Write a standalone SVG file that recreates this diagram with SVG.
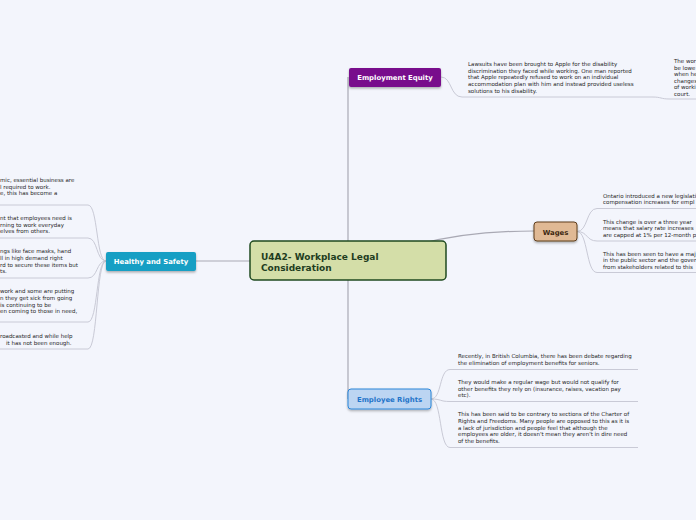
<svg xmlns="http://www.w3.org/2000/svg" width="696" height="520" viewBox="0 0 696 520">
<defs>
<filter id="sh" x="-20%" y="-30%" width="140%" height="170%">
<feDropShadow dx="0" dy="1.5" stdDeviation="1" flood-color="#000" flood-opacity="0.3"/>
</filter>
<style>
.bg{fill:#f3f5fc}
.trunk{fill:none;stroke:#a9a9b4;stroke-width:1.2}
.link{fill:none;stroke:#c9cad6;stroke-width:1}
.t{font-family:"DejaVu Sans",Verdana,sans-serif;font-size:5.5px;fill:#262626}
.nt{font-family:"DejaVu Sans",Verdana,sans-serif;font-size:6.9px;font-weight:bold;text-anchor:middle}
.ct{font-family:"DejaVu Sans",Verdana,sans-serif;font-size:9px;font-weight:bold;fill:#1f3d1f}
</style>
</defs>
<rect class="bg" x="0" y="0" width="696" height="520"/>

<g id="connectors">
<path class="trunk" d="M348 77 L348 399"/>
<path class="trunk" d="M196 261 L250 261"/>
<path class="trunk" d="M420 244 C450 236 490 231 534 231"/>
<path class="link" d="M441 77 C452 77 450 97 462 97 L652 97 C662 97 660 99 670 99 L696 99"/>
<path class="link" d="M577 231.5 C588 231.5 586 208.5 597 208.5 L696 208.5"/>
<path class="link" d="M577 231.5 C588 231.5 586 241 597 241 L696 241"/>
<path class="link" d="M577 231.5 C588 231.5 586 272.5 597 272.5 L696 272.5"/>
<path class="link" d="M431 399 C442 399 439 369.5 450 369.5 L638 369.5"/>
<path class="link" d="M431 399 C442 399 439 401.5 450 401.5 L638 401.5"/>
<path class="link" d="M431 399 C442 399 439 447.5 450 447.5 L638 447.5"/>
<path class="link" d="M106 261 C96 261 98 205 88 205 L0 205"/>
<path class="link" d="M106 261 C96 261 98 238 88 238 L0 238"/>
<path class="link" d="M106 261 C96 261 98 278 88 278 L0 278"/>
<path class="link" d="M106 261 C96 261 98 322 88 322 L0 322"/>
<path class="link" d="M106 261 C96 261 98 349 88 349 L0 349"/>
</g>

<g id="central">
<rect x="250" y="241" width="196" height="39" rx="4" fill="#d4dea8" stroke="#1f4a1f" stroke-width="1.5"/>
<text class="ct" x="261" y="260">U4A2- Workplace Legal</text>
<text class="ct" x="261" y="271">Consideration</text>
</g>

<g id="employment-equity">
<rect x="349" y="68" width="92" height="19" rx="2" fill="#780a8c" filter="url(#sh)"/>
<text class="nt" x="395" y="80" fill="#ffffff">Employment Equity</text>
</g>
<g id="ee-1">
<text class="t" x="468" y="66.2">Lawsuits have been brought to Apple for the disability</text>
<text class="t" x="468" y="72.8">discrimination they faced while working. One man reported</text>
<text class="t" x="468" y="79.4">that Apple repeatedly refused to work on an individual</text>
<text class="t" x="468" y="86">accommodation plan with him and instead provided useless</text>
<text class="t" x="468" y="92.6">solutions to his disability.</text>
</g>
<g id="ee-2">
<text class="t" x="674" y="63">The wor</text>
<text class="t" x="674" y="69.6">be lowe</text>
<text class="t" x="674" y="76.2">when he</text>
<text class="t" x="674" y="82.8">changes</text>
<text class="t" x="674" y="89.4">of worki</text>
<text class="t" x="674" y="96">court.</text>
</g>

<g id="wages">
<rect x="534" y="222" width="43" height="19" rx="3" fill="#e0b994" stroke="#5e3d1d" stroke-width="1" filter="url(#sh)"/>
<text class="nt" x="555.5" y="234.5" fill="#3d2810">Wages</text>
</g>
<g id="w-1">
<text class="t" x="603" y="197.6">Ontario introduced a new legislati</text>
<text class="t" x="603" y="204.2">compensation increases for empl</text>
</g>
<g id="w-2">
<text class="t" x="603" y="223.8">This change is over a three year</text>
<text class="t" x="603" y="230.4">means that salary rate increases</text>
<text class="t" x="603" y="237">are capped at 1% per 12-month p</text>
</g>
<g id="w-3">
<text class="t" x="603" y="255.5">This has been seen to have a maj</text>
<text class="t" x="603" y="262.1">in the public sector and the gover</text>
<text class="t" x="603" y="268.7">from stakeholders related to this</text>
</g>

<g id="employee-rights">
<rect x="348" y="389" width="83" height="20" rx="3" fill="#bcd5f2" stroke="#2b86d9" stroke-width="1" filter="url(#sh)"/>
<text class="nt" x="389.5" y="401.5" fill="#1f74c9">Employee Rights</text>
</g>
<g id="er-1">
<text class="t" x="458" y="358.4">Recently, in British Columbia, there has been debate regarding</text>
<text class="t" x="458" y="365">the elimination of employment benefits for seniors.</text>
</g>
<g id="er-2">
<text class="t" x="458" y="384">They would make a regular wage but would not qualify for</text>
<text class="t" x="458" y="390.6">other benefits they rely on (insurance, raises, vacation pay</text>
<text class="t" x="458" y="397.2">etc).</text>
</g>
<g id="er-3">
<text class="t" x="458" y="416.4">This has been said to be contrary to sections of the Charter of</text>
<text class="t" x="458" y="423">Rights and Freedoms. Many people are opposed to this as it is</text>
<text class="t" x="458" y="429.6">a lack of jurisdiction and people feel that although the</text>
<text class="t" x="458" y="436.2">employees are older, it doesn't mean they aren't in dire need</text>
<text class="t" x="458" y="442.8">of the benefits.</text>
</g>

<g id="healthy-safety">
<rect x="106" y="252" width="90" height="19" rx="2" fill="#189fc4" filter="url(#sh)"/>
<text class="nt" x="151" y="264" fill="#ffffff">Healthy and Safety</text>
</g>
<g id="hs-1">
<text class="t" x="0" y="182">mic, essential business are</text>
<text class="t" x="0" y="188.6">l required to work.</text>
<text class="t" x="0" y="195.2">e, this has become a</text>
</g>
<g id="hs-2">
<text class="t" x="0" y="220.2">nt that employees need is</text>
<text class="t" x="0" y="226.8">rning to work everyday</text>
<text class="t" x="0" y="233.4">elves from others.</text>
</g>
<g id="hs-3">
<text class="t" x="0" y="253.4">ngs like face masks, hand</text>
<text class="t" x="0" y="260">ll in high demand right</text>
<text class="t" x="0" y="266.6">rd to secure these items but</text>
<text class="t" x="0" y="273.2">ts.</text>
</g>
<g id="hs-4">
<text class="t" x="0" y="293.3">work and some are putting</text>
<text class="t" x="0" y="299.9">n they get sick from going</text>
<text class="t" x="0" y="306.5">is continuing to be</text>
<text class="t" x="0" y="313.1">en coming to those in need,</text>
</g>
<g id="hs-5">
<text class="t" x="0" y="338.2">roadcasted and while help</text>
<text class="t" x="6" y="344.8">it has not been enough.</text>
</g>
</svg>
